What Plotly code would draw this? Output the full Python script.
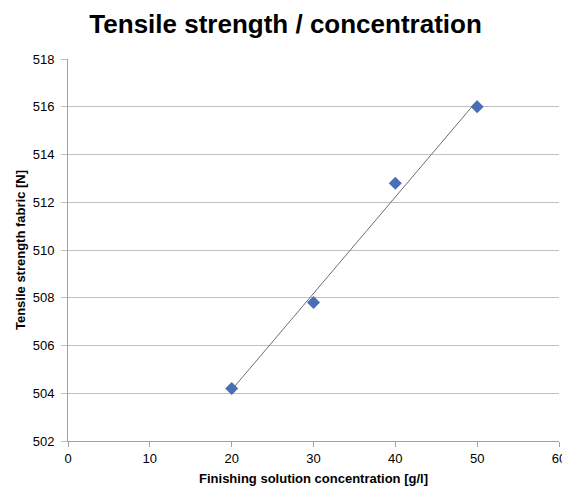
import numpy as np
import plotly.graph_objects as go

concentration = [20, 30, 40, 50]
tensile_strength = [504.2, 507.8, 512.8, 516.0]
x_ticks = [0, 10, 20, 30, 40, 50, 60]
y_ticks = [502, 504, 506, 508, 510, 512, 514, 516, 518]

# linear trendline (least squares)
slope, intercept = np.polyfit(concentration, tensile_strength, 1)
trend_x = [min(concentration), max(concentration)]
trend_y = [slope * v + intercept for v in trend_x]

fig = go.Figure()
fig.add_trace(go.Scatter(x=trend_x, y=trend_y, mode="lines",
                         line=dict(color="#6f6f6f", width=1), showlegend=False, hoverinfo="skip"))
fig.add_trace(go.Scatter(x=concentration, y=tensile_strength, mode="markers",
                         marker=dict(symbol="diamond", size=10, color="#4A6EB5"),
                         showlegend=False))

fig.update_layout(
    width=570, height=488,
    margin=dict(l=58, r=19, t=51, b=53),
    paper_bgcolor="white", plot_bgcolor="white",
    font=dict(family="Liberation Sans, Arial, sans-serif", color="black", size=13),
    title=dict(text="<b>Tensile strength / concentration</b>", x=0.487, xanchor="center",
               xref="container", y=0.967, yanchor="middle", font=dict(size=26, color="black")),
    xaxis=dict(range=[0, 60], tickvals=x_ticks, showgrid=False, zeroline=False,
               showline=True, linecolor="#a0a0a0", linewidth=1,
               ticks="outside", ticklen=5, tickcolor="#a0a0a0",
               title=dict(text="<b>Finishing solution concentration [g/l]</b>", standoff=9,
                          font=dict(size=13))),
    yaxis=dict(range=[502, 518], tickvals=y_ticks, showgrid=True, gridcolor="#c0c0c0",
               gridwidth=1, zeroline=False, showline=True, linecolor="#a0a0a0", linewidth=1,
               ticks="outside", ticklen=6, tickcolor="#c0c0c0", ticklabelstandoff=4,
               title=dict(text="<b>Tensile strength fabric [N]</b>", standoff=4,
                          font=dict(size=13))),
)

fig.write_html("out.html")
